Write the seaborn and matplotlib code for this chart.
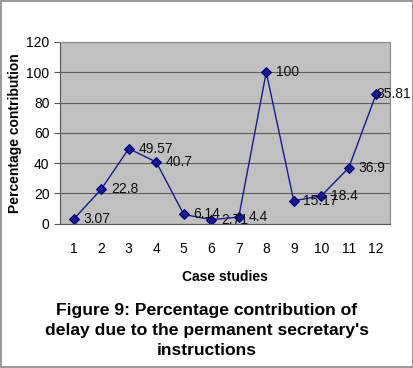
import matplotlib
matplotlib.use("Agg")
import matplotlib.pyplot as plt
import seaborn as sns
import pandas as pd
from matplotlib.patches import Rectangle

cases = [1, 2, 3, 4, 5, 6, 7, 8, 9, 10, 11, 12]
values = [3.07, 22.8, 49.57, 40.7, 6.14, 2.71, 4.4, 100, 15.17, 18.4, 36.9, 85.81]
labels = ["3.07", "22.8", "49.57", "40.7", "6.14", "2.71", "4.4", "100", "15.17", "18.4", "36.9", "85.81"]

df = pd.DataFrame({"case": cases, "value": values})

sns.set_style("white")
plt.rcParams['font.family'] = ['Liberation Sans', 'DejaVu Sans']
plt.rcParams['text.color'] = 'black'
plt.rcParams['axes.labelcolor'] = 'black'
plt.rcParams['xtick.color'] = 'black'
plt.rcParams['ytick.color'] = 'black'

fig = plt.figure(figsize=(4.14, 3.68), dpi=100)
ax = fig.add_axes([0.145, 0.392, 0.797, 0.494])
ax.set_facecolor("#c0c0c0")

sns.lineplot(data=df, x="case", y="value", ax=ax, color="#1a1a8a", marker="D",
             markersize=5, markeredgecolor="#000080", linewidth=1.0)

for i, (x, y, t) in enumerate(zip(cases, values, labels)):
    dx = 7 if i < len(cases) - 1 else 0
    ax.annotate(t, (x, y), xytext=(dx, 0), textcoords="offset points",
                va="center", ha="left", fontsize=10, color="#111111")

ax.set_xlim(0.5, 12.5)
ax.set_ylim(0, 120)
ax.set_yticks(range(0, 121, 20))
ax.yaxis.grid(True, color="#606060", linewidth=0.8)
ax.set_axisbelow(True)
ax.set_xticks(cases)
ax.set_xticks([c + 0.5 for c in [0] + cases], minor=True)
ax.tick_params(axis="x", which="major", length=0, labelsize=10, pad=13)
ax.tick_params(axis="x", which="minor", length=4, color="#555555", direction="out")
ax.tick_params(axis="y", which="major", length=4, color="#555555", labelsize=10, left=True)
for s in ["top", "right"]:
    ax.spines[s].set_color("#888888")
    ax.spines[s].set_linewidth(0.8)
for s in ["left", "bottom"]:
    ax.spines[s].set_color("#555555")
    ax.spines[s].set_linewidth(0.8)

ax.set_xlabel("Case studies", fontsize=10, fontweight="bold", labelpad=10)
ax.set_ylabel("Percentage contribution", fontsize=10, fontweight="bold", labelpad=3)

fig.text(0.5, 0.103, "Figure 9: Percentage contribution of\ndelay due to the permanent secretary's\ninstructions",
         ha="center", va="center", fontsize=12.6, fontweight="bold", linespacing=1.42)

fig.patches.append(Rectangle((0.002, 0.002), 0.996, 0.996, transform=fig.transFigure,
                             fill=False, edgecolor="#888888", linewidth=1.2))

fig.savefig("out.png", dpi=100)
